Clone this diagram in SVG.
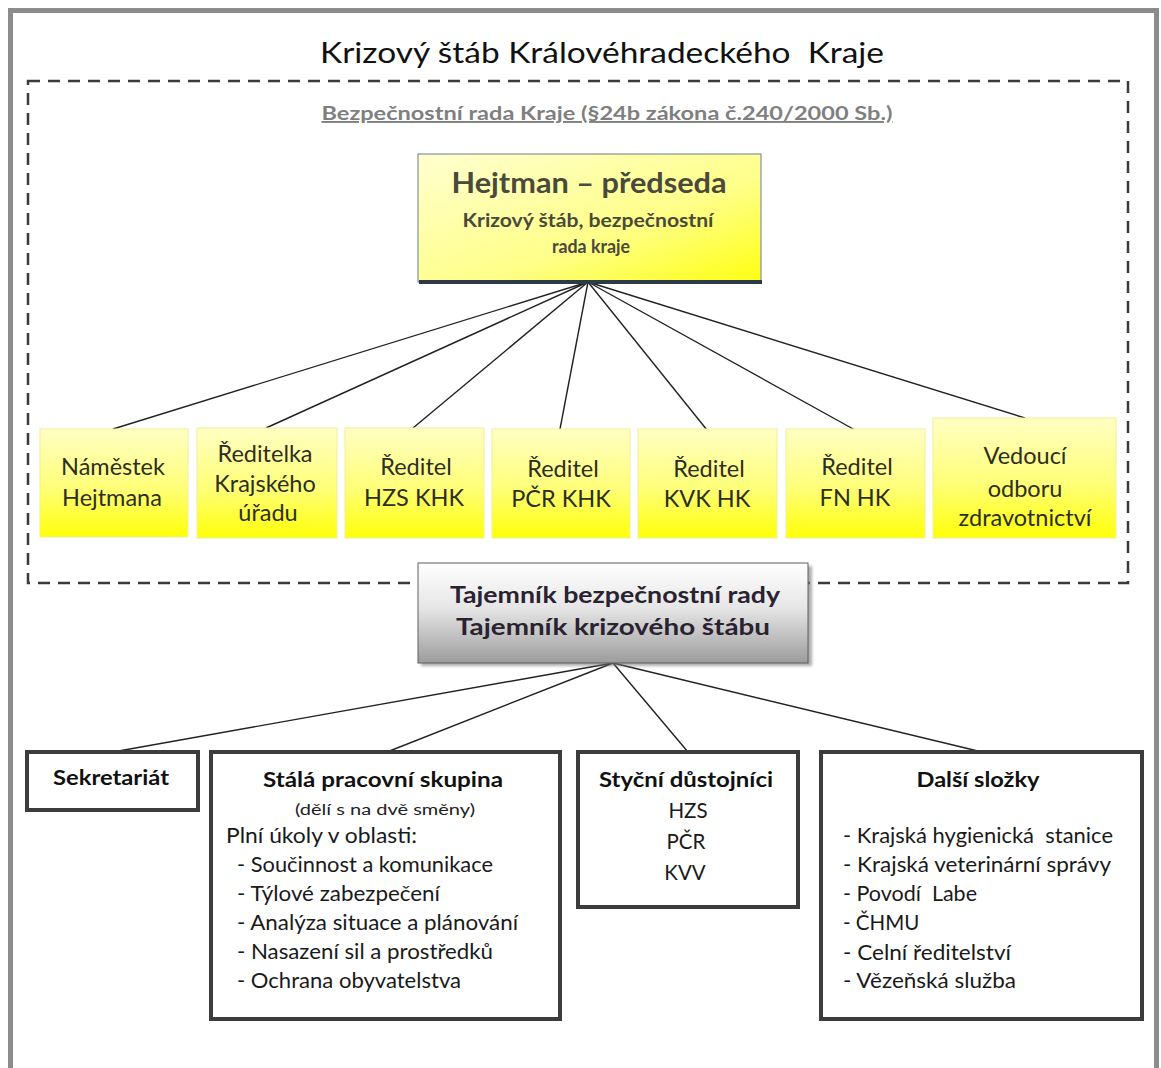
<svg xmlns="http://www.w3.org/2000/svg" width="1161" height="1068" viewBox="0 0 1161 1068">
<defs>
<linearGradient id="gY" x1="0" y1="0" x2="0" y2="1">
<stop offset="0" stop-color="#ffffc4"/>
<stop offset="0.55" stop-color="#ffff78"/>
<stop offset="1" stop-color="#ffff08"/>
</linearGradient>
<linearGradient id="gH" x1="0" y1="0" x2="1" y2="1">
<stop offset="0" stop-color="#ffffd0"/>
<stop offset="0.6" stop-color="#ffff88"/>
<stop offset="1" stop-color="#ffff10"/>
</linearGradient>
<linearGradient id="gT" x1="0" y1="0" x2="0" y2="1">
<stop offset="0" stop-color="#ffffff"/>
<stop offset="0.45" stop-color="#e6e6e6"/>
<stop offset="1" stop-color="#9c9c9c"/>
</linearGradient>
<filter id="soft" x="-5%" y="-5%" width="110%" height="110%">
<feGaussianBlur stdDeviation="1.5"/>
</filter>
</defs>
<style>
text{font-family:Lato,"Liberation Sans",Arial,sans-serif;}
.yb{fill:url(#gY);stroke:#efef9a;stroke-width:1;}
.yt{font-size:23.5px;fill:#2e2e1e;text-anchor:middle;}
.bb{fill:#ffffff;stroke:#3c3c3c;stroke-width:4;}
.bt{font-size:21px;font-weight:bold;fill:#111;text-anchor:middle;}
.it{font-size:20.5px;fill:#1a1a1a;white-space:pre;}
.ln{stroke:#222;stroke-width:1.4;fill:none;}
</style>

<!-- outer frame -->
<rect x="10.5" y="10.5" width="1146" height="1100" fill="#ffffff" stroke="#8c8c8c" stroke-width="5"/>

<!-- title -->
<text x="602" y="63" font-size="29" fill="#111" text-anchor="middle" textLength="564" lengthAdjust="spacingAndGlyphs" style="white-space:pre">Krizový štáb Královéhradeckého  Kraje</text>

<!-- dashed security council area -->
<rect x="28" y="81" width="1100" height="502" fill="none" stroke="#3a3a3a" stroke-width="2.5" stroke-dasharray="12 8"/>

<text x="607" y="120" font-size="19" font-weight="bold" fill="#7f7f7f" text-anchor="middle" textLength="571" lengthAdjust="spacingAndGlyphs" text-decoration="underline">Bezpečnostní rada Kraje (§24b zákona č.240/2000 Sb.)</text>

<!-- connectors -->
<g id="connectors">
<line class="ln" x1="588" y1="282" x2="113" y2="429"/>
<line class="ln" x1="588" y1="282" x2="266" y2="428"/>
<line class="ln" x1="588" y1="282" x2="413" y2="428"/>
<line class="ln" x1="588" y1="282" x2="560" y2="429"/>
<line class="ln" x1="588" y1="282" x2="707" y2="430"/>
<line class="ln" x1="588" y1="282" x2="855" y2="430"/>
<line class="ln" x1="588" y1="282" x2="1025" y2="418"/>
<line class="ln" x1="613" y1="663" x2="113" y2="752"/>
<line class="ln" x1="613" y1="663" x2="387" y2="752"/>
<line class="ln" x1="613" y1="663" x2="688" y2="752"/>
<line class="ln" x1="613" y1="663" x2="982" y2="752"/>
</g>

<!-- Hejtman -->
<g id="hejtman">
<rect x="418" y="154" width="343" height="128" fill="url(#gH)" stroke="#6d7d8d" stroke-width="1"/>
<rect x="419" y="280" width="343" height="4" fill="#2c3a4a"/>
<text x="589" y="193" font-size="28" font-weight="bold" fill="#4a4a3c" text-anchor="middle" textLength="275" lengthAdjust="spacingAndGlyphs">Hejtman – předseda</text>
<text x="588" y="227" font-size="18.5" font-weight="bold" fill="#4a4a3c" text-anchor="middle" textLength="251" lengthAdjust="spacingAndGlyphs">Krizový štáb, bezpečnostní</text>
<text x="591" y="253" font-size="18.5" font-weight="bold" fill="#4a4a3c" text-anchor="middle" textLength="78" lengthAdjust="spacingAndGlyphs">rada kraje</text>
</g>

<!-- yellow members -->
<g id="namestek">
<rect class="yb" x="40" y="429" width="148" height="108"/>
<text class="yt" x="113" y="475">Náměstek</text>
<text class="yt" x="112" y="506">Hejtmana</text>
</g>
<g id="reditelka">
<rect class="yb" x="197" y="428" width="140" height="110"/>
<text class="yt" x="265" y="462">Ředitelka</text>
<text class="yt" x="265" y="492">Krajského</text>
<text class="yt" x="268" y="521">úřadu</text>
</g>
<g id="hzs">
<rect class="yb" x="345" y="428" width="139" height="110"/>
<text class="yt" x="416" y="475">Ředitel</text>
<text class="yt" x="414" y="506">HZS KHK</text>
</g>
<g id="pcr">
<rect class="yb" x="492" y="429" width="138" height="109"/>
<text class="yt" x="563" y="477">Ředitel</text>
<text class="yt" x="561" y="507">PČR KHK</text>
</g>
<g id="kvk">
<rect class="yb" x="638" y="429" width="139" height="109"/>
<text class="yt" x="709" y="477">Ředitel</text>
<text class="yt" x="707" y="507">KVK HK</text>
</g>
<g id="fn">
<rect class="yb" x="786" y="429" width="139" height="109"/>
<text class="yt" x="857" y="475">Ředitel</text>
<text class="yt" x="855" y="506">FN HK</text>
</g>
<g id="vedouci">
<rect class="yb" x="933" y="418" width="183" height="120"/>
<text class="yt" x="1025" y="464">Vedoucí</text>
<text class="yt" x="1025" y="497">odboru</text>
<text class="yt" x="1025" y="526">zdravotnictví</text>
</g>

<!-- Tajemnik -->
<g id="tajemnik">
<rect x="421" y="566" width="391" height="100" fill="#777" opacity="0.6" filter="url(#soft)"/>
<rect x="418" y="563" width="390" height="100" fill="url(#gT)" stroke="#5e5e5e" stroke-width="1"/>
<text x="615" y="603" font-size="22" font-weight="bold" fill="#2a2230" text-anchor="middle" textLength="330" lengthAdjust="spacingAndGlyphs">Tajemník bezpečnostní rady</text>
<text x="613" y="635" font-size="22" font-weight="bold" fill="#2a2230" text-anchor="middle" textLength="314" lengthAdjust="spacingAndGlyphs">Tajemník krizového štábu</text>
</g>

<!-- bottom boxes -->
<g id="sekretariat">
<rect class="bb" x="27" y="752" width="171" height="58"/>
<text class="bt" x="111" y="785" textLength="116" lengthAdjust="spacingAndGlyphs">Sekretariát</text>
</g>

<g id="stala">
<rect class="bb" x="211" y="752" width="349" height="267"/>
<text class="bt" x="383" y="787" textLength="240" lengthAdjust="spacingAndGlyphs">Stálá pracovní skupina</text>
<text x="385" y="815" font-size="15.5" fill="#222" text-anchor="middle" textLength="180" lengthAdjust="spacingAndGlyphs">(dělí s na dvě směny)</text>
<text class="it" x="226" y="843" textLength="191" lengthAdjust="spacingAndGlyphs">Plní úkoly v oblasti:</text>
<text class="it" x="237" y="872" textLength="256" lengthAdjust="spacingAndGlyphs">- Součinnost a komunikace</text>
<text class="it" x="237" y="901" textLength="203" lengthAdjust="spacingAndGlyphs">- Týlové zabezpečení</text>
<text class="it" x="237" y="930" textLength="281" lengthAdjust="spacingAndGlyphs">- Analýza situace a plánování</text>
<text class="it" x="237" y="959" textLength="256" lengthAdjust="spacingAndGlyphs">- Nasazení sil a prostředků</text>
<text class="it" x="237" y="988" textLength="224" lengthAdjust="spacingAndGlyphs">- Ochrana obyvatelstva</text>
</g>

<g id="stycni">
<rect class="bb" x="578" y="752" width="220" height="155"/>
<text class="bt" x="686" y="787" textLength="174" lengthAdjust="spacingAndGlyphs">Styční důstojníci</text>
<text x="688" y="818" font-size="20.5" fill="#1a1a1a" text-anchor="middle">HZS</text>
<text x="686" y="849" font-size="20.5" fill="#1a1a1a" text-anchor="middle">PČR</text>
<text x="685" y="880" font-size="20.5" fill="#1a1a1a" text-anchor="middle">KVV</text>
</g>

<g id="dalsi">
<rect class="bb" x="821" y="752" width="321" height="267"/>
<text class="bt" x="978" y="787" textLength="123" lengthAdjust="spacingAndGlyphs">Další složky</text>
<text class="it" x="843" y="843" textLength="270" lengthAdjust="spacingAndGlyphs">- Krajská hygienická  stanice</text>
<text class="it" x="843" y="872" textLength="268" lengthAdjust="spacingAndGlyphs">- Krajská veterinární správy</text>
<text class="it" x="843" y="901" textLength="134" lengthAdjust="spacingAndGlyphs">- Povodí  Labe</text>
<text class="it" x="843" y="930">- ČHMU</text>
<text class="it" x="843" y="960" textLength="168" lengthAdjust="spacingAndGlyphs">- Celní ředitelství</text>
<text class="it" x="843" y="988" textLength="173" lengthAdjust="spacingAndGlyphs">- Vězeňská služba</text>
</g>
</svg>
